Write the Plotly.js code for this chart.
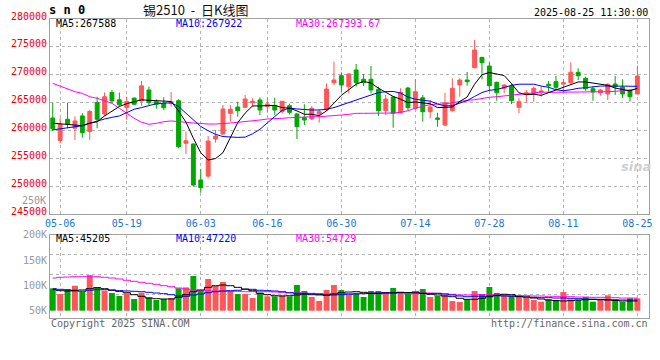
<!DOCTYPE html>
<html><head><meta charset="utf-8">
<script src="https://cdn.plot.ly/plotly-3.0.1.min.js"></script>
<style>html,body{margin:0;padding:0;background:#fff;}#chart{width:660px;height:360px;}</style>
</head><body><div id="chart"></div>
<script>
const dates = ['04-30','05-06','05-07','05-08','05-09','05-12','05-13','05-14','05-15','05-16',
'05-19','05-20','05-21','05-22','05-23','05-26','05-27','05-28','05-29','05-30',
'06-03','06-04','06-05','06-06','06-09','06-10','06-11','06-12','06-13','06-16',
'06-17','06-18','06-19','06-20','06-23','06-24','06-25','06-26','06-27','06-30',
'07-01','07-02','07-03','07-04','07-07','07-08','07-09','07-10','07-11','07-14',
'07-15','07-16','07-17','07-18','07-21','07-22','07-23','07-24','07-25','07-28',
'07-29','07-30','07-31','08-01','08-04','08-05','08-06','08-07','08-08','08-11',
'08-12','08-13','08-14','08-15','08-18','08-19','08-20','08-21','08-22','08-25'];

const open = [262230,258200,262000,260400,262600,259800,265000,262950,266800,265500,
264100,265800,265300,267260,265160,264870,264870,265330,257690,257560,
251100,251800,258460,259360,263070,264200,264150,264980,265460,264260,
264440,263360,264440,262950,262280,262050,262950,263670,268570,269820,
267850,270850,269180,269180,267380,263540,266000,263180,267610,263970,
265870,263360,262230,260970,263540,268150,269050,271260,273120,271560,
268640,267560,267970,264150,266480,266480,266840,268280,268750,268330,
268570,270430,269360,267490,266770,266540,268330,267740,267080,266540];
const high = [264980,262200,264980,262500,263100,263700,266050,266800,267250,266800,
266050,265900,268900,267850,265590,265950,266900,265590,259770,257690,
253020,259000,260080,264560,264560,265160,266360,265770,265950,265870,
265870,265280,264800,263180,264690,264380,263790,268460,272340,270430,
270250,271920,270130,271560,267850,266360,266050,267560,267850,269230,
266360,265460,263180,266770,269360,269360,270490,276230,273120,272230,
268750,268330,268460,265770,267260,267850,267970,268870,269770,269230,
272230,271150,269640,267970,267440,268460,269770,269180,267380,271620];
const low = [259900,257700,260400,258300,258700,258300,260400,262600,264900,264300,
261900,264600,264400,264560,263900,263670,264260,256790,255770,249900,
248820,251400,257800,259180,261570,262460,264000,264150,262770,263180,
262770,263070,262890,258460,260970,261870,261390,263540,268150,266950,
266660,267850,267970,266660,262590,262770,260490,263070,263670,263670,
261570,262180,260670,260790,263360,266050,268030,271150,269180,267080,
265330,266660,264740,263070,264980,265160,266050,266950,267380,266950,
268280,269050,267130,265330,266230,265460,266360,265770,265160,266540];
const close = [260310,261100,261150,261700,259600,263400,262000,266050,265300,264600,
265200,264700,268000,264980,264690,264080,265160,257080,258150,250200,
249720,258100,259000,263850,263790,263540,265640,265230,263670,264740,
263670,265230,263250,260670,261870,263970,263360,267440,269050,268150,
270130,268570,268570,267260,263540,265640,263070,266840,264080,266950,
263360,264200,262000,264980,267560,269050,268750,274440,272160,268030,
266770,268150,265330,265160,266770,267560,267080,268030,267740,268570,
270430,269820,267490,266900,267260,268280,267850,266540,266050,269770];

const ma5 = [261300,261200,261100,260900,260850,261300,261550,262600,263400,264300,
264800,265200,265500,265400,265300,265300,265200,263500,261500,258600,
256000,254700,254950,256000,258600,261400,263100,264400,264400,264400,
264500,264100,264000,263500,262900,262900,262650,263500,265000,266300,
267300,268300,268800,268500,267600,266800,266100,265600,265000,265100,
264900,264800,264100,264100,264200,265200,266000,268300,270000,270400,
270100,269850,268400,266750,266400,266500,266300,266800,267200,267700,
268250,268700,268700,268500,268400,268100,267600,267300,267100,267588];
const ma10 = [260100,260300,260500,260700,260850,261300,261700,262050,262350,262600,
263200,263800,264100,264400,264800,264900,264950,264300,263100,261900,
260700,259950,259300,258900,258800,258750,258800,259400,260200,261400,
262500,263600,264000,263850,263700,263670,263670,263800,264100,264560,
264900,265400,265800,266350,266800,266950,267000,266700,266000,265600,
265450,265250,264750,264400,264450,264950,265350,266100,266800,267200,
267350,267700,268100,268300,268350,268300,267970,267740,267300,267130,
267300,267560,267670,267850,267970,267970,267970,267970,267920,267922];
const ma30 = [268460,267970,267440,266950,266660,266050,265770,265330,264870,263970,
263070,262180,261460,261100,261280,261570,261700,261640,261460,261330,
261200,261150,261150,261200,261330,261460,261570,261750,261870,262050,
262180,262180,262280,262360,262360,262460,262460,262530,262590,262770,
262890,263070,263070,263070,263070,263070,263130,263250,263540,264020,
264380,264620,264740,264740,264980,265230,265400,265510,265770,265950,
266050,266230,266360,266480,266590,266720,266900,266840,266840,266840,
266840,266840,266900,266900,266950,266950,267020,267130,267200,267393.67];

const volume = [94200,83000,92800,99300,86900,120400,96100,89500,84900,79000,
84300,73100,85500,76400,71100,73100,75000,94200,96100,118500,
88900,112600,98700,106600,88900,83000,83000,75000,85500,78400,
78400,80400,78400,100700,88900,77000,69100,90900,100700,90900,
81000,84300,77000,88900,88900,85500,94800,85500,83000,87500,
92800,77000,79000,81000,69100,67200,72500,88900,83000,96800,
84900,81000,79000,79000,75700,71100,67800,72500,71100,86900,
72500,71100,77000,67800,71100,80400,72500,67200,74500,74500];
const volMa5 = [91500,89500,88900,90300,90900,93400,95400,93400,90900,88300,
85500,81600,78400,75000,73700,73100,73100,76400,81600,87500,
90900,96100,99300,100700,99300,96100,92800,89500,84300,81600,
79600,79000,79600,81000,83000,83000,82400,81000,83000,85500,
86900,87500,86300,84300,84300,84900,84900,86300,85500,86900,
84300,82400,81000,79000,77600,74500,72500,72500,74500,77600,
80400,82400,81600,78400,77000,75000,73100,71100,69800,69100,
69800,71100,71700,72500,71700,71100,70500,69100,69100,69100];
const volMa10 = [93400,92200,90900,88900,88300,90300,91500,91500,90300,89500,
88900,88300,87500,86300,84900,83600,81600,79000,78400,81000,
83000,85500,87500,88900,89500,90300,92200,92200,90300,89500,
88900,87500,85500,84300,83000,81600,81000,80400,81000,81600,
82400,83000,83600,84300,84900,85500,85500,85500,84900,84900,
84300,83600,84300,83000,81000,79000,77600,78400,78400,79000,
79600,79000,78400,77600,77000,76400,75700,75700,75000,75000,
74500,73700,73100,72500,72500,71700,71100,71100,71100,71100];
const volMa30 = [114500,115900,116500,117100,117100,117100,117100,115900,114500,112600,
110000,108000,106000,104100,102100,99300,97400,94800,92800,90300,
89500,88900,88900,88500,88300,88300,87500,87500,87500,87500,
86900,86300,85500,85500,84900,84300,83600,83000,83000,83600,
83600,84300,84300,84900,84900,85500,85500,85500,85500,85500,
85500,84900,84300,83000,82400,81000,81000,81000,81600,81600,
81600,81000,80400,79600,79600,79000,79000,78400,78400,77600,
77600,77000,77000,76400,76400,75700,75700,75000,75000,75000];

const tickDates = ['05-06','05-19','06-03','06-16','06-30','07-14','07-28','08-11','08-25'];
const priceTicks = [245000,250000,255000,260000,265000,270000,275000,280000];
const volTicks = [50000,100000,150000,200000];
const volTickText = ['50K','100K','150K','200K'];

const UP = '#ff5757', DOWN = '#00a800';
const MONO = 'DejaVu Sans Mono, Liberation Mono, monospace';
const GRID = '#b4b4b4', FRAME = '#a0a0a0';
const VOL_BASE = 50000;
const XR = [-0.37, 80.57];

const volColors = close.map((c, i) => c >= open[i] ? UP : DOWN);

const traces = [
  {type:'candlestick', x:dates, open:open, high:high, low:low, close:close,
   xaxis:'x', yaxis:'y', whiskerwidth:0, hoverinfo:'skip',
   increasing:{line:{color:UP, width:1}, fillcolor:UP},
   decreasing:{line:{color:DOWN, width:1}, fillcolor:DOWN}},
  {type:'scatter', mode:'lines', x:dates, y:ma30, xaxis:'x', yaxis:'y', line:{color:'#ff00ff', width:1}},
  {type:'scatter', mode:'lines', x:dates, y:ma10, xaxis:'x', yaxis:'y', line:{color:'#0000ff', width:1}},
  {type:'scatter', mode:'lines', x:dates, y:ma5, xaxis:'x', yaxis:'y', line:{color:'#000000', width:1}},
  {type:'bar', x:dates, y:volume.map(v => v - VOL_BASE), base:VOL_BASE, width:0.8,
   marker:{color:volColors, line:{width:0}}, xaxis:'x2', yaxis:'y2'},
  {type:'scatter', mode:'lines', x:dates, y:volMa30, xaxis:'x2', yaxis:'y2', line:{color:'#ff00ff', width:1, shape:'hvh'}},
  {type:'scatter', mode:'lines', x:dates, y:volMa10, xaxis:'x2', yaxis:'y2', line:{color:'#0000ff', width:1, shape:'hvh'}},
  {type:'scatter', mode:'lines', x:dates, y:volMa5, xaxis:'x2', yaxis:'y2', line:{color:'#000000', width:1, shape:'hvh'}}
];

function ann(text, x, y, xanchor, color, size, extra) {
  return Object.assign({text:text, x:x, y:y, xref:'paper', yref:'paper', xanchor:xanchor, yanchor:'middle',
    showarrow:false, font:{family:MONO, size:size || 10, color:color || '#000'}, borderpad:0}, extra || {});
}
const px = v => (v - 50) / 599, py = v => (318 - v) / 299;

const layout = {
  width:660, height:360, margin:{l:50, r:11, t:19, b:42},
  paper_bgcolor:'#fff', plot_bgcolor:'#fff', showlegend:false, boxgap:0.25,
  xaxis:{type:'category', domain:[0,1], range:XR, anchor:'y', tickmode:'array', tickvals:tickDates, ticktext:tickDates,
    showgrid:true, gridcolor:GRID, griddash:'dot', gridwidth:1, showline:true, mirror:true, linecolor:FRAME, linewidth:1,
    ticks:'', tickfont:{family:MONO, size:10, color:'#1877d2'}, rangeslider:{visible:false}, zeroline:false, fixedrange:true},
  yaxis:{domain:[0.3478,1], range:[245000,280000], tickmode:'array', tickvals:priceTicks, tickformat:'d',
    showgrid:true, gridcolor:GRID, griddash:'dot', gridwidth:1, showline:true, mirror:true, linecolor:FRAME, linewidth:1,
    ticks:'', ticklabelshift:-3, tickfont:{family:MONO, size:10, color:'#ee0000'}, zeroline:false, fixedrange:true},
  xaxis2:{type:'category', domain:[0,1], range:XR, anchor:'y2', tickmode:'array', tickvals:tickDates, showticklabels:false,
    showgrid:true, gridcolor:GRID, griddash:'dot', gridwidth:1, showline:true, mirror:true, linecolor:FRAME, linewidth:1,
    ticks:'', zeroline:false, fixedrange:true},
  yaxis2:{domain:[0,0.2786], range:[35600,200000], tickmode:'array', tickvals:volTicks, ticktext:volTickText,
    showgrid:false, minor:{tickmode:'array', tickvals:[81000,120500,160000], showgrid:true, gridcolor:GRID, griddash:'dot', gridwidth:1, ticks:''},
    showline:true, mirror:true, linecolor:FRAME, linewidth:1, ticks:'', tickfont:{family:MONO, size:10, color:'#999'},
    zeroline:false, fixedrange:true},
  annotations:[
    ann('s n 0', px(48), py(10), 'left', '#000', 12, {font:{family:MONO, size:12, color:'#000', weight:'bold'}}),
    ann('锡2510\u00a0\u00a0-\u00a0\u00a0日K线图', px(195), py(9.5), 'center', '#000', 13, {font:{family:'Noto Sans CJK SC, sans-serif', size:13, color:'#111'}}),
    ann('2025-08-25 11:30:00', 1, py(12), 'right', '#000', 10),
    ann('MA5:267588', px(55), py(24), 'left', '#000', 10),
    ann('MA10:267922', px(175), py(24), 'left', '#0000ff', 10),
    ann('MA30:267393.67', px(295), py(24), 'left', '#ff00ff', 10),
    ann('MA5:45205', px(55), py(238.5), 'left', '#000', 10),
    ann('MA10:47220', px(175), py(238.5), 'left', '#0000ff', 10),
    ann('MA30:54729', px(295), py(238.5), 'left', '#ff00ff', 10),
    ann('250K', px(47), py(200), 'right', '#999', 10),
    ann('Copyright 2025 SINA.COM', px(50), py(323), 'left', '#666', 10),
    ann('http://finance.sina.com.cn', 1, py(323), 'right', '#666', 10),
    ann('<i><b>sina</b></i>', px(636), py(166), 'center', '#d0d0d0', 13, {font:{family:'DejaVu Sans, sans-serif', size:13, color:'#cfcfcf'}})
  ]
};

Plotly.newPlot('chart', traces, layout, {staticPlot:true, displayModeBar:false});
</script></body></html>
